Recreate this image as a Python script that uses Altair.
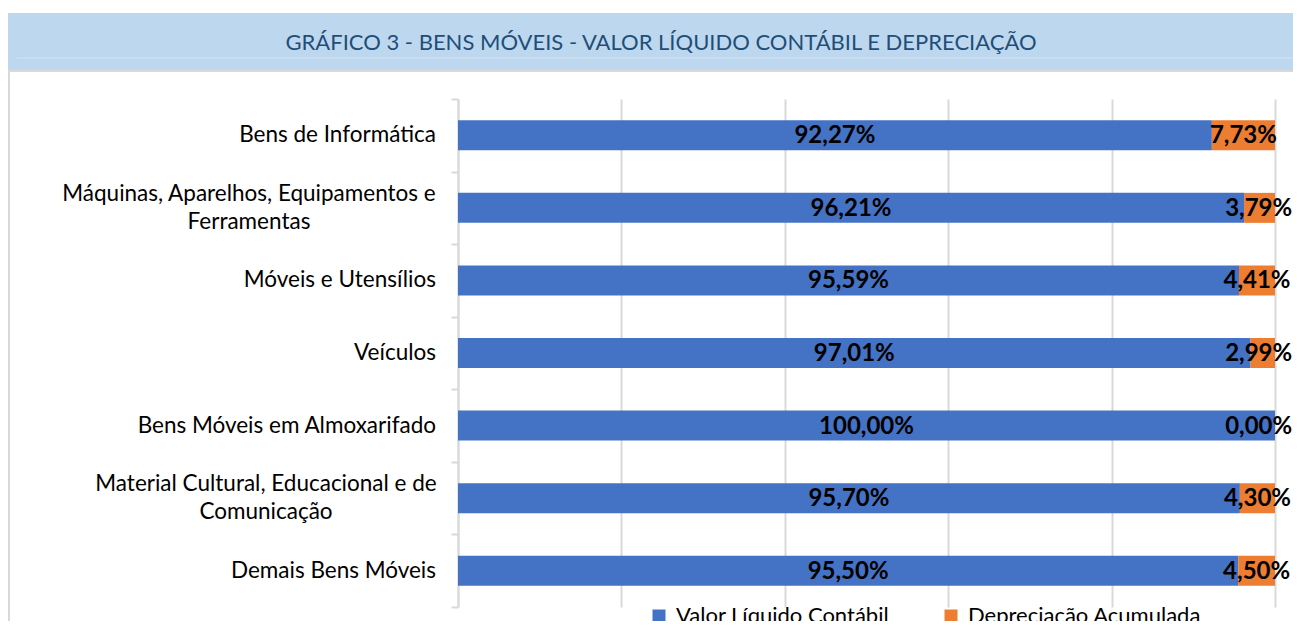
import altair as alt
import pandas as pd

title_text = "GRÁFICO 3 - BENS MÓVEIS - VALOR LÍQUIDO CONTÁBIL E DEPRECIAÇÃO"
categories = [
    "Bens de Informática",
    "Máquinas, Aparelhos, Equipamentos e|Ferramentas",
    "Móveis e Utensílios",
    "Veículos",
    "Bens Móveis em Almoxarifado",
    "Material Cultural, Educacional e de|Comunicação",
    "Demais Bens Móveis",
]
valor_liquido = [92.27, 96.21, 95.59, 97.01, 100.00, 95.70, 95.50]
depreciacao = [7.73, 3.79, 4.41, 2.99, 0.00, 4.30, 4.50]
series_names = ["Valor Líquido Contábil", "Depreciação Acumulada"]
series_colors = ["#4472C4", "#ED7D31"]
grid_values = [0, 20, 40, 60, 80, 100]

rows = []
for i, c in enumerate(categories):
    rows.append({"cat": c, "serie": series_names[0], "ordem": 0, "valor": valor_liquido[i]})
    rows.append({"cat": c, "serie": series_names[1], "ordem": 1, "valor": depreciacao[i]})
df = pd.DataFrame(rows)
cat_df = pd.DataFrame({"cat": categories})

W, H = 817, 508
FONT = "Lato"
CAT_SIZE = 22.5

base = alt.Chart(df).transform_stack(
    stack="valor", groupby=["cat"], as_=["x0", "x1"],
    sort=[alt.SortField("ordem", order="ascending")]
).transform_calculate(
    mid="min((datum.x0 + datum.x1) / 2, 98.0)",
    rotulo="replace(format(datum.valor, '.2f'), '.', ',') + '%'"
)

x_scale = alt.Scale(domain=[0, 100], nice=False, zero=True)
y_scale = alt.Scale(paddingInner=0, paddingOuter=0)

y_enc = alt.Y(
    "cat:N", sort=categories, title=None, scale=y_scale,
    axis=alt.Axis(
        labels=False,
        tickBand="extent", tickSize=7, tickColor="#D9D9D9", tickWidth=2,
        domainColor="#D9D9D9", domainWidth=2, grid=False,
    ),
)

bars = base.mark_bar(size=30).encode(
    x=alt.X("x0:Q", scale=x_scale, title=None,
            axis=alt.Axis(values=grid_values, labels=False, ticks=False, domain=False,
                          grid=True, gridColor="#D9D9D9", gridWidth=2)),
    x2="x1:Q",
    y=y_enc,
    color=alt.Color(
        "serie:N",
        scale=alt.Scale(domain=series_names, range=series_colors),
        sort=series_names,
        legend=alt.Legend(
            orient="none", legendX=190, legendY=506, direction="horizontal", title=None,
            symbolType="square", symbolSize=169, symbolStrokeWidth=0,
            labelFontSize=22, labelFont=FONT, labelColor="#000000", labelLimit=400,
            columnPadding=50, labelOffset=6,
        ),
    ),
)

labels = base.mark_text(font=FONT, fontWeight="bold", fontSize=24, color="#000000",
                        baseline="middle", dy=1).encode(
    x=alt.X("mid:Q", scale=x_scale),
    y=alt.Y("cat:N", sort=categories),
    text="rotulo:N",
)

# category labels (single-line, right aligned)
cat_single = alt.Chart(cat_df).transform_filter(
    "indexof(datum.cat, '|') < 0"
).mark_text(font=FONT, fontSize=CAT_SIZE, color="#000000", align="right",
            baseline="middle").encode(
    x=alt.value(-22), y=alt.Y("cat:N", sort=categories), text="cat:N"
)

# two-line category labels (centred lines, like the original)
cat_multi = []
for c, cx in [(categories[1], -209), (categories[5], -192)]:
    cat_multi.append(
        alt.Chart(cat_df).transform_filter(alt.datum.cat == c).mark_text(
            font=FONT, fontSize=CAT_SIZE, color="#000000", align="center",
            baseline="middle", lineBreak="|", lineHeight=28, dy=-14
        ).encode(x=alt.value(cx), y=alt.Y("cat:N", sort=categories), text="cat:N")
    )

deco = alt.Chart(pd.DataFrame({"t": [title_text]}))

band = deco.mark_rect(color="#BDD7EE").encode(
    x=alt.value(-450), x2=alt.value(W + 40), y=alt.value(-86), y2=alt.value(-29)
)
band_line = deco.mark_rule(color="#D3E4F3", strokeWidth=1).encode(
    x=alt.value(-441), x2=alt.value(W + 40), y=alt.value(-41)
)
border_top = deco.mark_rule(color="#D9D9D9", strokeWidth=2).encode(
    x=alt.value(-450), x2=alt.value(W + 40), y=alt.value(-28)
)
border_left = deco.mark_rule(color="#D9D9D9", strokeWidth=2).encode(
    x=alt.value(-449), y=alt.value(-28), y2=alt.value(H + 40)
)
title = deco.mark_text(font=FONT, fontSize=22, color="#1F4E79", align="center",
                       baseline="middle").encode(
    x=alt.value(203), y=alt.value(-56), text="t:N"
)

chart = alt.layer(band, band_line, border_top, border_left, title, bars, labels,
                  cat_single, *cat_multi).properties(
    width=W, height=H,
    autosize=alt.AutoSizeParams(type="none"),
    padding={"left": 450, "top": 91, "right": 18, "bottom": 14},
    background="#FFFFFF",
).configure_view(stroke=None)

chart.save("out.html", embed_options={"renderer": "svg", "actions": False})
